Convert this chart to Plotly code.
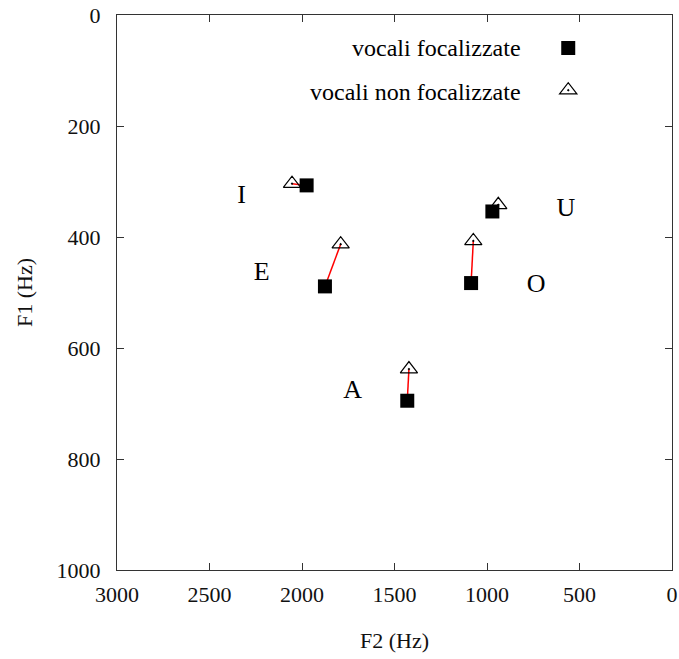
import plotly.graph_objects as go

# Data (Hz)
vowels = ["I", "E", "A", "O", "U"]
f2_focused = [1975, 1876, 1431, 1086, 971]
f1_focused = [307, 489, 695, 483, 354]
f2_nonfocused = [2054, 1791, 1422, 1074, 939]
f1_nonfocused = [304, 413, 638, 407, 342]
label_f2 = [2326, 2218, 1726, 735, 573]
label_f1 = [327, 465, 679, 488, 351]

x_ticks = [3000, 2500, 2000, 1500, 1000, 500, 0]
y_ticks = [0, 200, 400, 600, 800, 1000]
series_names = ["vocali focalizzate", "vocali non focalizzate"]

FONT = "Liberation Serif"

# connecting segments
seg_x, seg_y = [], []
for a, b, c, d in zip(f2_focused, f2_nonfocused, f1_focused, f1_nonfocused):
    seg_x += [a, b, None]
    seg_y += [c, d, None]

fig = go.Figure()
fig.add_trace(go.Scatter(x=seg_x, y=seg_y, mode="lines",
                         line=dict(color="red", width=1.5),
                         showlegend=False, hoverinfo="skip"))
fig.add_trace(go.Scatter(x=f2_nonfocused, y=f1_nonfocused, mode="markers",
                         name=" ", legendgroup="b", legendrank=2,
                         marker=dict(symbol="triangle-up-open-dot", size=15,
                                     color="black", line=dict(width=1.2, color="black"))))
fig.add_trace(go.Scatter(x=f2_focused, y=f1_focused, mode="markers",
                         name=" ", legendgroup="a", legendrank=1,
                         marker=dict(symbol="square", size=14, color="black",
                                     line=dict(width=0))))
fig.add_trace(go.Scatter(x=label_f2, y=label_f1, mode="text", text=vowels,
                         textfont=dict(family=FONT, size=26, color="black"),
                         showlegend=False, hoverinfo="skip"))

# legend texts (symbol sits to the right of the text)
fig.add_annotation(x=0.7315, y=0.9405, xref="paper", yref="paper",
                   xanchor="right", yanchor="middle", showarrow=False,
                   text=series_names[0], font=dict(family=FONT, size=24, color="black"))
fig.add_annotation(x=0.7315, y=0.861, xref="paper", yref="paper",
                   xanchor="right", yanchor="middle", showarrow=False,
                   text=series_names[1], font=dict(family=FONT, size=24, color="black"))

axis_common = dict(showgrid=False, zeroline=False, showline=True, linecolor="#333",
                   linewidth=1, mirror="ticks", ticks="inside", ticklen=7,
                   tickcolor="#333", automargin=False, ticklabeloverflow="allow",
                   tickfont=dict(family=FONT, size=22, color="#111"))

fig.update_xaxes(range=[3000, 0], tickvals=x_ticks, ticktext=[str(v) for v in x_ticks],
                 ticklabelstandoff=5,
                 title=dict(text="F2 (Hz)", font=dict(family=FONT, size=22, color="#111"),
                            standoff=26),
                 **axis_common)
fig.update_yaxes(range=[1000, 0], tickvals=y_ticks, ticktext=[str(v) for v in y_ticks],
                 ticklabelstandoff=11,
                 title=dict(text="F1 (Hz)", font=dict(family=FONT, size=22, color="#111"),
                            standoff=17),
                 **axis_common)

fig.update_layout(
    width=679, height=659,
    font=dict(family=FONT, color="black"),
    margin=dict(l=117, r=7, t=15, b=89, autoexpand=False),
    plot_bgcolor="white", paper_bgcolor="white",
    showlegend=True,
    legend=dict(x=0.777, y=0.977, xanchor="left", yanchor="top",
                bgcolor="rgba(0,0,0,0)", font=dict(family=FONT, size=21),
                traceorder="grouped", tracegroupgap=12, itemwidth=30),
)

# remove the default 8px page margin so the figure fills the window
fig.write_html("out.html", config={"displayModeBar": False},
               post_script="document.body.style.margin='0';")
